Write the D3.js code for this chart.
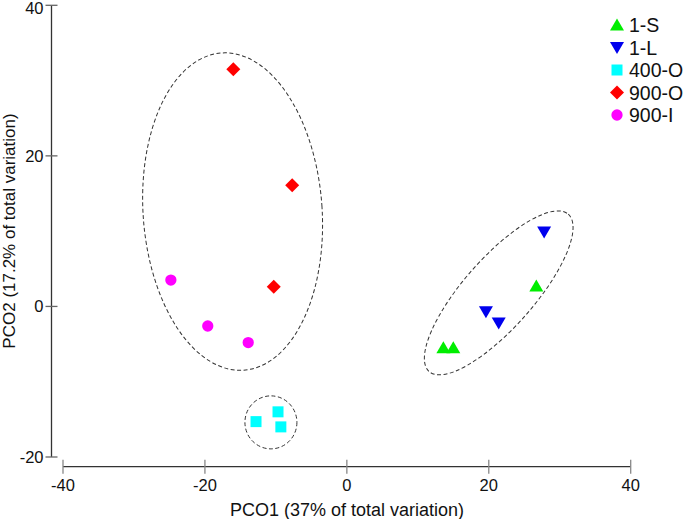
<!DOCTYPE html>
<html><head><meta charset="utf-8">
<script src="https://cdn.jsdelivr.net/npm/d3@7"></script>
<style>body{margin:0;background:#fff}svg{display:block;font-family:"Liberation Sans",Arial,sans-serif}</style>
</head><body>
<script>
const groups = ["1-S","1-L","400-O","900-O","900-I"];
const colors = ["#00ee00","#0000ee","#00ffff","#ff0000","#ff00ff"];
const shapes = ["triUp","triDown","square","diamond","circle"];
const pts_1S = [[13.6,-5.5],[15.0,-5.5],[26.7,2.7]];
const pts_1L = [[27.8,9.9],[19.6,-0.7],[21.4,-2.2]];
const pts_400O = [[-12.8,-15.3],[-9.7,-14.0],[-9.3,-16.0]];
const pts_900O = [[-16.0,31.5],[-7.7,16.1],[-10.3,2.6]];
const pts_900I = [[-24.8,3.5],[-19.6,-2.6],[-13.9,-4.8]];
const series = [pts_1S, pts_1L, pts_400O, pts_900O, pts_900I];
const xTicks = [-40,-20,0,20,40];
const yTicks = [-20,0,20,40];
const xTitle = "PCO1 (37% of total variation)";
const yTitle = "PCO2 (17.2% of total variation)";
// cluster ellipse centres (data units)
const ellipseCenters = [[-16.1,12.6],[-10.7,-15.4],[21.4,1.8]];

const W=685,H=519;
const svg=d3.select("body").append("svg").attr("width",W).attr("height",H);
const x=d3.scaleLinear().domain([-40,40]).range([63,630.7]);
const y=d3.scaleLinear().domain([-20,40]).range([457,5.3]);

// axes
const xa=svg.append("g").attr("transform","translate(0,466.7)");
xa.append("line").attr("x1",x(-40)).attr("x2",x(40)).attr("stroke","#333").attr("stroke-width",1.3);
xa.selectAll("line.t").data(xTicks).enter().append("line").attr("class","t")
  .attr("x1",d=>x(d)).attr("x2",d=>x(d)).attr("y1",-7).attr("y2",7).attr("stroke","#888").attr("stroke-width",1.3);
xa.selectAll("text").data(xTicks).enter().append("text").attr("x",d=>x(d)).attr("y",24.5)
  .attr("text-anchor","middle").attr("font-size",16.5).attr("fill","#111").text(d=>d);

const ya=svg.append("g").attr("transform","translate(51.5,0)");
ya.append("line").attr("y1",y(40)).attr("y2",y(-20)).attr("stroke","#333").attr("stroke-width",1.3);
ya.selectAll("line.t").data(yTicks).enter().append("line").attr("class","t")
  .attr("x1",-6).attr("x2",6).attr("y1",d=>y(d)).attr("y2",d=>y(d)).attr("stroke","#666").attr("stroke-width",1.3);
ya.selectAll("text").data(yTicks).enter().append("text").attr("x",-8).attr("y",d=>Math.max(y(d),8)).attr("dy","0.36em")
  .attr("text-anchor","end").attr("font-size",16.5).attr("fill","#111").text(d=>d);

svg.append("text").attr("x",347).attr("y",515.5).attr("text-anchor","middle").attr("font-size",18).attr("fill","#111").text(xTitle);
svg.append("text").attr("transform","translate(15,231) rotate(-90)").attr("text-anchor","middle").attr("font-size",17).attr("fill","#111").text(yTitle);

// ellipses
const ellStyle=[{rx:89.5,ry:159,rot:-4},{rx:26,ry:26.5,rot:0},{rx:105,ry:35,rot:-48.5}];
svg.selectAll("ellipse").data(ellipseCenters).enter().append("ellipse")
  .attr("transform",(d,i)=>`translate(${x(d[0])},${y(d[1])}) rotate(${ellStyle[i].rot})`)
  .attr("rx",(d,i)=>ellStyle[i].rx).attr("ry",(d,i)=>ellStyle[i].ry)
  .attr("fill","none").attr("stroke","#333").attr("stroke-width",1).attr("stroke-dasharray","4,2.5");

function sym(shape){
  switch(shape){
    case "triUp": return "M0,-6.5L7,5.5L-7,5.5Z";
    case "triDown": return "M0,6.5L7,-5.5L-7,-5.5Z";
    case "square": return "M-5.5,-5.5H5.5V5.5H-5.5Z";
    case "diamond": return "M0,-7L7,0L0,7L-7,0Z";
    case "circle": return d3.symbol(d3.symbolCircle,100)();
  }
}
series.forEach((pts,i)=>{
  svg.append("g").selectAll("path").data(pts).enter().append("path")
    .attr("d",sym(shapes[i])).attr("fill",colors[i])
    .attr("transform",d=>`translate(${x(d[0])},${y(d[1])})`);
});

// legend
const lg=svg.append("g");
groups.forEach((g,i)=>{
  const yy=25+i*22.5;
  lg.append("path").attr("d",sym(shapes[i])).attr("fill",colors[i]).attr("transform",`translate(617,${yy})`);
  lg.append("text").attr("x",629).attr("y",yy).attr("dy","0.36em").attr("font-size",19.5).attr("fill","#111").text(g);
});
</script>
</body></html>
